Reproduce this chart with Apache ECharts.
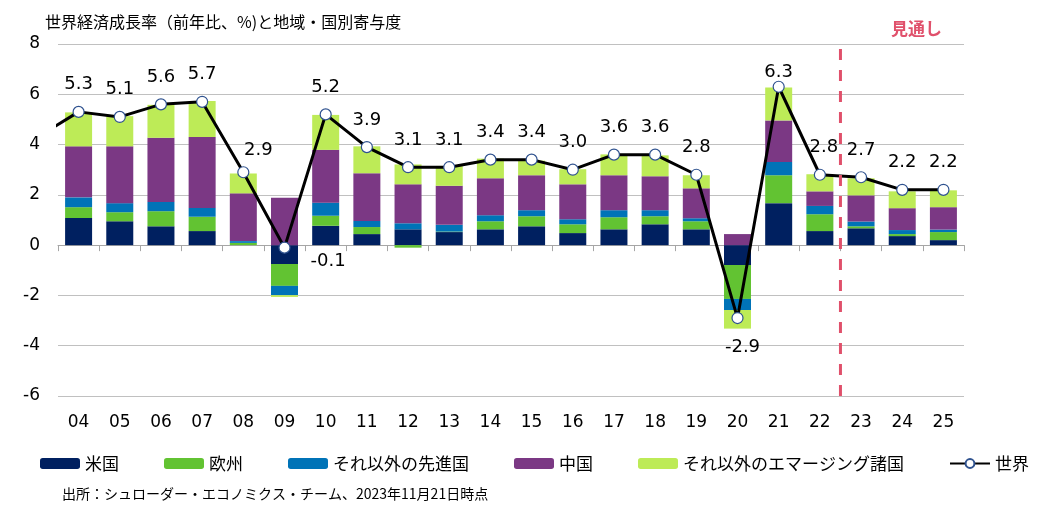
<!DOCTYPE html>
<html>
<head>
<meta charset="utf-8">
<script src="https://cdn.jsdelivr.net/npm/echarts@6/dist/echarts.min.js"></script>
<style>html,body{margin:0;padding:0;background:#fff;}#c{width:1052px;height:527px;}</style>
</head>
<body>
<div id="c"></div>
<script>
const categories = ['04','05','06','07','08','09','10','11','12','13','14','15','16','17','18','19','20','21','22','23','24','25'];
const us       = [1.08,0.95,0.75,0.56,0.00,-0.75,0.77,0.44,0.63,0.52,0.63,0.75,0.48,0.63,0.83,0.63,-0.79,1.67,0.56,0.67,0.36,0.20];
const europe   = [0.43,0.36,0.60,0.57,0.09,-0.87,0.40,0.28,-0.10,0.02,0.32,0.40,0.35,0.48,0.32,0.32,-1.35,1.11,0.67,0.08,0.08,0.32];
const otherAdv = [0.39,0.36,0.37,0.35,0.07,-0.37,0.52,0.24,0.24,0.27,0.24,0.24,0.20,0.28,0.24,0.12,-0.44,0.53,0.33,0.19,0.16,0.10];
const china    = [2.03,2.26,2.55,2.82,1.90,1.88,2.10,1.90,1.55,1.55,1.47,1.39,1.39,1.39,1.35,1.19,0.44,1.65,0.58,1.04,0.87,0.89];
const otherEm  = [1.35,1.20,1.31,1.43,0.79,-0.07,1.39,1.07,0.79,0.79,0.78,0.58,0.60,0.83,0.83,0.52,-0.74,1.31,0.68,0.68,0.67,0.67];
const world    = [5.3,5.1,5.6,5.7,2.9,-0.1,5.2,3.9,3.1,3.1,3.4,3.4,3.0,3.6,3.6,2.8,-2.9,6.3,2.8,2.7,2.2,2.2];
const worldPrev = 4.3; // 2003 value, off the left edge
const yTicks = [-6, 8, 2]; // min, max, interval
const seriesNames = ['米国','欧州','それ以外の先進国','中国','それ以外のエマージング諸国','世界'];
const titleText = '世界経済成長率（前年比、%)と地域・国別寄与度';
const forecastText = '見通し';
const sourceText = '出所：シュローダー・エコノミクス・チーム、2023年11月21日時点';
const forecastStart = '23';

const colors = ['#002060','#62C332','#0073B7','#7B3884','#BDEB57'];
const NUM = '"DejaVu Sans", "Noto Sans CJK JP", sans-serif';
const JP = '"Noto Sans CJK JP", sans-serif';
const RED = '#E0506B';

const labelOverrides = {
  '08': {position:'top', distance:12, offset:[15,5]},
  '09': {position:'right', distance:20, offset:[0,14]},
  '20': {position:'bottom', distance:14, offset:[5,0]},
  '21': {position:'top', distance:-1},
  '22': {position:'top', distance:12, offset:[4,0]}
};

const chart = echarts.init(document.getElementById('c'), null, {renderer:'canvas'});
const barData = [us, europe, otherAdv, china, otherEm];
const fIdx = categories.indexOf(forecastStart);

const barSeries = barData.map((arr, i) => ({
  name: seriesNames[i], type:'bar', stack:'total', barWidth:27,
  itemStyle:{color:colors[i]}, data: arr, z:2
}));

const worldData = world.map((v, i) => {
  const o = labelOverrides[categories[i]];
  const d = {value: v};
  if (o) d.label = o;
  return d;
});

chart.setOption({
  animation:false,
  textStyle:{fontFamily:NUM},
  title:[
    {text:titleText, left:40, top:9, textStyle:{fontSize:16, fontWeight:'normal', color:'#000', fontFamily:JP}},
    {text:forecastText, left:886, top:15, textStyle:{fontSize:17, fontWeight:'bold', color:RED, fontFamily:JP}}
  ],
  grid:{left:58, right:88, top:44, bottom:131, containLabel:false},
  legend:{
    left:35, top:450, itemWidth:40, itemHeight:11, itemGap:45,
    data: seriesNames,
    textStyle:{fontSize:17, color:'#000', fontFamily:JP}
  },
  xAxis:[
    {type:'category', data:categories, position:'bottom',
     axisLine:{onZero:true, lineStyle:{color:'#a6a6a6', width:1}},
     axisTick:{show:true, length:6, lineStyle:{color:'#a6a6a6'}},
     axisLabel:{show:false}, splitLine:{show:false}},
    {type:'category', data:categories, position:'bottom',
     axisLine:{show:false, onZero:false}, axisTick:{show:false},
     axisLabel:{fontSize:17, color:'#000', margin:18, fontFamily:NUM}},
    {type:'value', min:0, max:categories.length, show:false, position:'top',
     axisLine:{onZero:false}, splitLine:{show:false}}
  ],
  yAxis:{
    type:'value', min:yTicks[0], max:yTicks[1], interval:yTicks[2],
    axisLine:{show:false}, axisTick:{show:false},
    axisLabel:{fontSize:17, color:'#000', margin:18, fontFamily:NUM},
    splitLine:{lineStyle:{color:'#c0c0c0', width:1}}
  },
  series: barSeries.concat([
    {name:'prev', type:'line', data:[[-1, worldPrev],[0, world[0]]], symbol:'none',
     lineStyle:{color:'#000', width:3}, silent:true, z:3, clip:true},
    {name:seriesNames[5], type:'line', data:worldData, z:4,
     symbol:'circle', symbolSize:11,
     itemStyle:{color:'#fff', borderColor:'#2F528F', borderWidth:1.2},
     lineStyle:{color:'#000', width:3},
     label:{show:true, position:'top', distance:12, fontSize:18, color:'#000', fontFamily:NUM,
            formatter: p => Number(p.value).toFixed(1)}},
    {name:'forecast', type:'line', xAxisIndex:2, silent:true, z:6, symbol:'none',
     data:[[fIdx, yTicks[0]],[fIdx, yTicks[1] - 0.15]],
     lineStyle:{color:RED, width:3, type:[11,10]}}
  ]),
  graphic:[
    {type:'text', left:62, top:487, style:{text:sourceText, fontSize:14, fill:'#000', fontFamily:JP}}
  ]
});
</script>
</body>
</html>
